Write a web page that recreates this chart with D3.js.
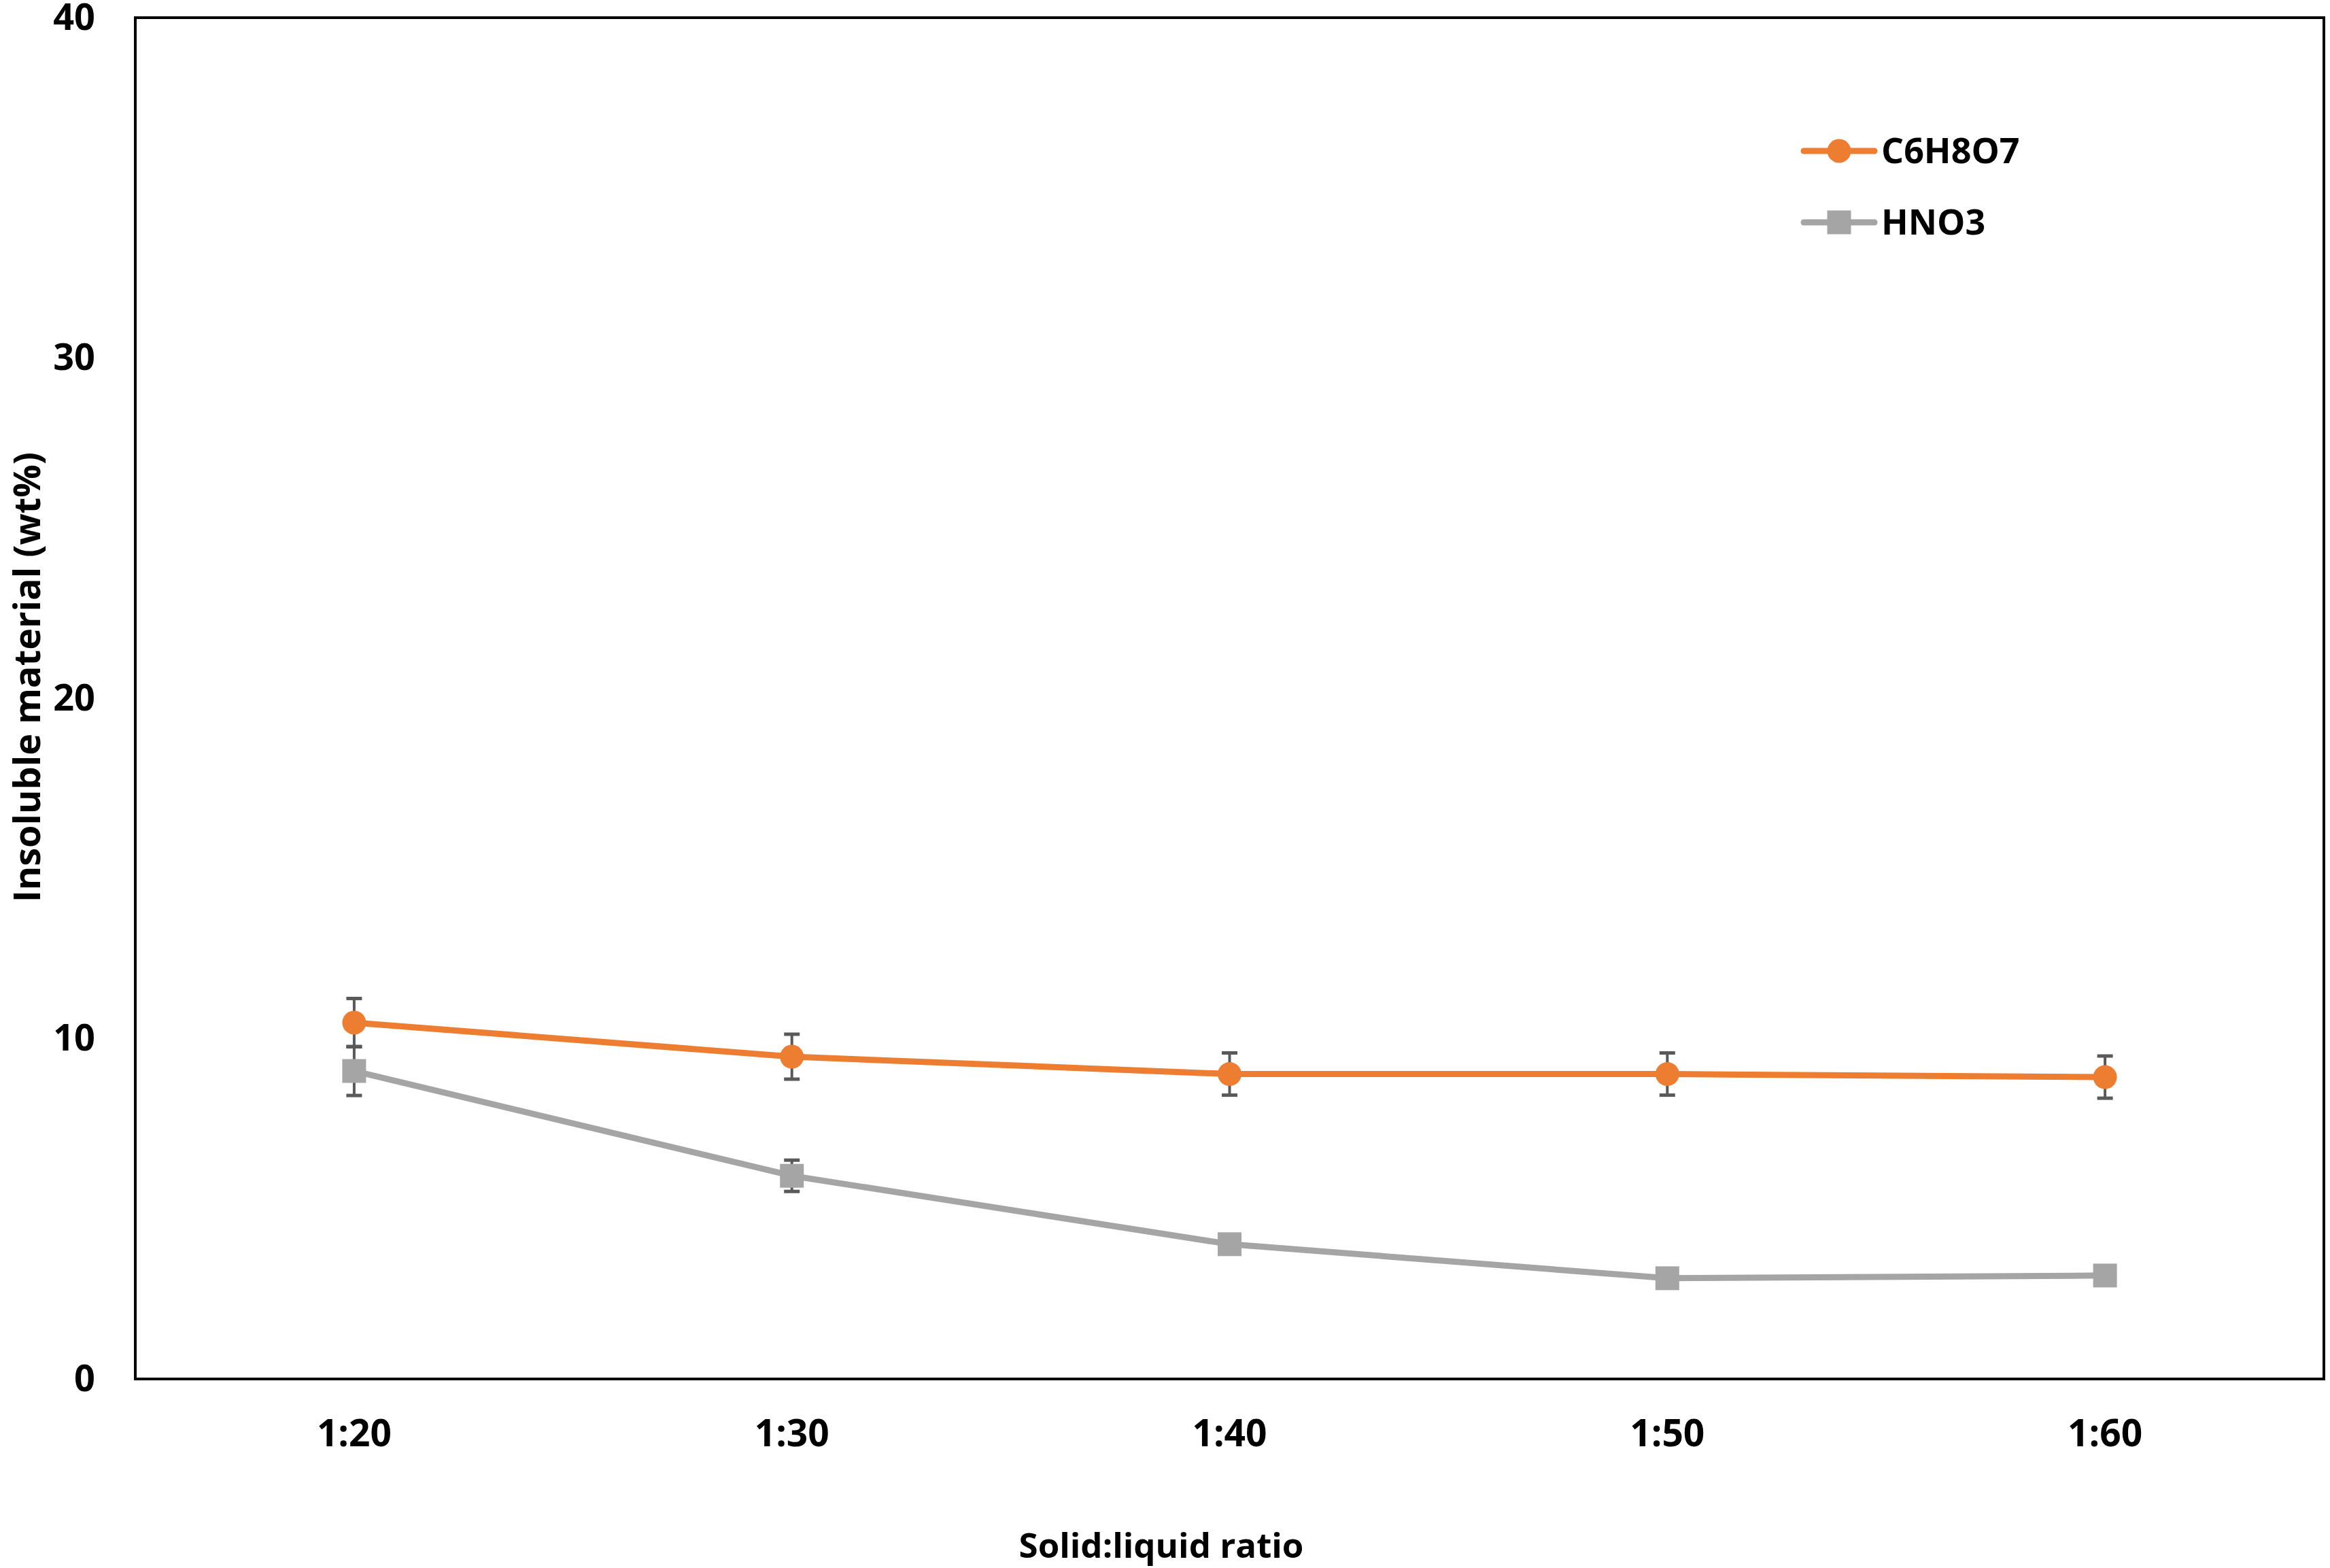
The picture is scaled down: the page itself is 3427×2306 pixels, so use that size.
<!DOCTYPE html>
<html>
<head>
<meta charset="utf-8">
<script src="https://cdn.jsdelivr.net/npm/d3@7"></script>
<style>
  html, body { margin: 0; padding: 0; background: #ffffff; }
  svg { display: block; }
  text { font-family: "Open Sans", "DejaVu Sans", sans-serif; font-weight: 700; fill: #000; }
</style>
</head>
<body>
<svg id="chart" width="3427" height="2306"></svg>
<script>
// ---- data ----
const categories = ["1:20", "1:30", "1:40", "1:50", "1:60"];
const c6h8o7 = [10.47, 9.47, 8.96, 8.96, 8.87];
const c6h8o7Err = [0.71, 0.66, 0.62, 0.62, 0.62];
const hno3 = [9.05, 5.97, 3.96, 2.96, 3.04];
const hno3Err = [0.72, 0.46, 0.25, 0.2, 0.2];
const yTicks = [0, 10, 20, 30, 40];
const seriesNames = ["C6H8O7", "HNO3"];
const xTitle = "Solid:liquid ratio";
const yTitle = "Insoluble material (wt%)";

// ---- layout ----
const W = 3427, H = 2306;
const plot = { left: 199, top: 26, right: 3418, bottom: 2028 };
const colors = { C6H8O7: "#ED7D31", HNO3: "#A5A5A5" };
const errColor = "#595959";

const svg = d3.select("#chart");

const x = d3.scaleBand().domain(categories).range([plot.left, plot.right]).paddingInner(0).paddingOuter(0);
const xc = d => x(d) + x.bandwidth() / 2;
const y = d3.scaleLinear().domain([0, 40]).range([plot.bottom, plot.top]);

// y tick labels (axis without lines)
const yAxis = d3.axisLeft(y).tickValues(yTicks).tickSize(0).tickPadding(59).tickFormat(d3.format("d"));
const gy = svg.append("g").attr("transform", `translate(${plot.left},0)`).call(yAxis);
gy.select(".domain").remove();
gy.selectAll("text").attr("font-size", 54).attr("font-family", null).style("font-family", '"Open Sans", sans-serif').style("font-weight", 700).attr("fill", "#000");

// x tick labels
const xAxis = d3.axisBottom(x).tickSize(0).tickPadding(60);
const gx = svg.append("g").attr("transform", `translate(0,${plot.bottom})`).call(xAxis);
gx.select(".domain").remove();
gx.selectAll("text").attr("font-size", 55).attr("font-family", null).style("font-family", '"Open Sans", sans-serif').style("font-weight", 700).attr("fill", "#000");

// frame
svg.append("rect")
  .attr("x", plot.left).attr("y", plot.top)
  .attr("width", plot.right - plot.left).attr("height", plot.bottom - plot.top)
  .attr("fill", "none").attr("stroke", "#000").attr("stroke-width", 4);

const series = [
  { name: "C6H8O7", values: c6h8o7, err: c6h8o7Err, shape: "circle" },
  { name: "HNO3", values: hno3, err: hno3Err, shape: "square" }
];

const line = d3.line().x((d, i) => xc(categories[i])).y(d => y(d));

// error bars (behind markers)
series.forEach(s => {
  const g = svg.append("g");
  s.values.forEach((v, i) => {
    const cx = xc(categories[i]);
    const y1 = y(v + s.err[i]), y2 = y(v - s.err[i]);
    g.append("line").attr("x1", cx).attr("x2", cx).attr("y1", y1).attr("y2", y2)
      .attr("stroke", errColor).attr("stroke-width", 4);
    [y1, y2].forEach(yy => g.append("line").attr("x1", cx - 11.5).attr("x2", cx + 11.5)
      .attr("y1", yy).attr("y2", yy).attr("stroke", errColor).attr("stroke-width", 5));
  });
});

// lines and markers
series.forEach(s => {
  svg.append("path").datum(s.values)
    .attr("d", line).attr("fill", "none")
    .attr("stroke", colors[s.name]).attr("stroke-width", 9)
    .attr("stroke-linejoin", "round");
  const g = svg.append("g");
  s.values.forEach((v, i) => {
    const cx = xc(categories[i]), cy = y(v);
    if (s.shape === "circle") {
      g.append("circle").attr("cx", cx).attr("cy", cy).attr("r", 17.5).attr("fill", colors[s.name]);
    } else {
      g.append("rect").attr("x", cx - 17.5).attr("y", cy - 17.5).attr("width", 35).attr("height", 35).attr("fill", colors[s.name]);
    }
  });
});

// legend
const legend = svg.append("g");
const legY = [222, 327];
series.forEach((s, i) => {
  const ly = legY[i];
  legend.append("line").attr("x1", 2653).attr("x2", 2757).attr("y1", ly).attr("y2", ly)
    .attr("stroke", colors[s.name]).attr("stroke-width", 9).attr("stroke-linecap", "round");
  if (s.shape === "circle") {
    legend.append("circle").attr("cx", 2705).attr("cy", ly).attr("r", 17.5).attr("fill", colors[s.name]);
  } else {
    legend.append("rect").attr("x", 2705 - 17.5).attr("y", ly - 17.5).attr("width", 35).attr("height", 35).attr("fill", colors[s.name]);
  }
  legend.append("text").attr("x", 2767).attr("y", ly).attr("dy", "0.35em")
    .attr("font-size", 52).text(seriesNames[i]);
});

// axis titles
svg.append("text").attr("x", 1708).attr("y", 2273).attr("dy", "0.35em")
  .attr("text-anchor", "middle").attr("font-size", 51).text(xTitle);
svg.append("text").attr("transform", `translate(40,996) rotate(-90)`).attr("dy", "0.35em")
  .attr("text-anchor", "middle").attr("font-size", 54).text(yTitle);
</script>
</body>
</html>
